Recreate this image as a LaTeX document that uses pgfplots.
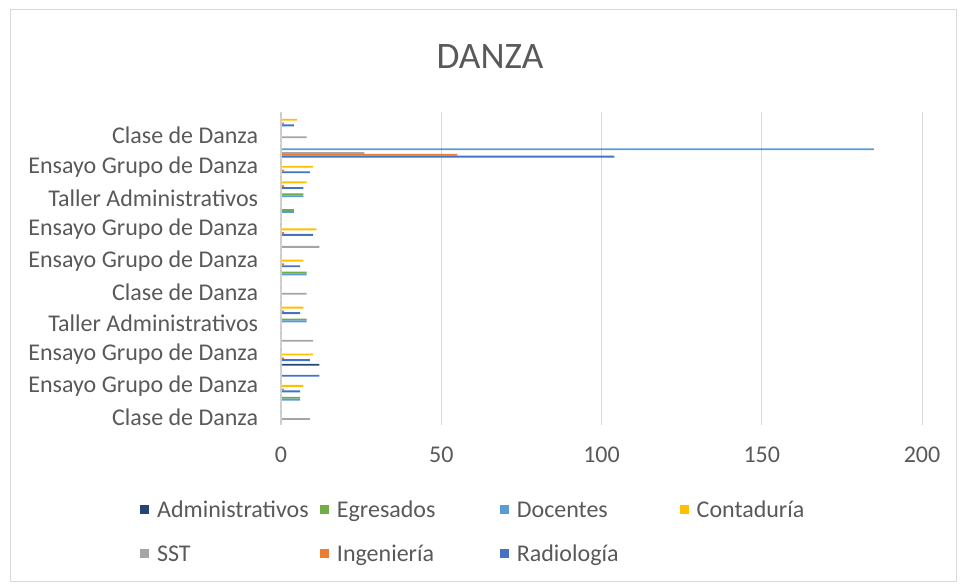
\documentclass[border=0pt]{standalone}
\usepackage{pgfplots}
\pgfplotsset{compat=1.18}
\usepackage{pgfplotstable}
\usepackage{fontspec}
\setmainfont{Carlito}
\definecolor{adm}{HTML}{264478}
\definecolor{egr}{HTML}{70AD47}
\definecolor{doc}{HTML}{5B9BD5}
\definecolor{con}{HTML}{FFC000}
\definecolor{sst}{HTML}{A5A5A5}
\definecolor{ing}{HTML}{ED7D31}
\definecolor{rad}{HTML}{4472C4}
\definecolor{txt}{HTML}{595959}
\definecolor{grd}{HTML}{D9D9D9}
\pgfplotstableread{
k adm egr doc con sst ing rad
1 0 0 0 0 9 0 0
2 0 6 6 0 0 0 0
3 0 0 0 7 0 1 6
4 12 0 0 0 0 0 12
5 0 0 0 10 0 1 9
6 0 0 0 0 10 0 0
7 0 8 8 0 0 0 0
8 0 0 0 7 0 1 6
9 0 0 0 0 8 0 0
10 0 8 8 0 0 0 0
11 0 0 0 7 0 1 6
12 0 0 0 0 12 0 0
13 0 0 0 11 0 1 10
14 0 4 4 0 0 0 0
15 0 7 7 0 0 0 0
16 0 0 0 8 0 1 7
17 0 0 0 10 0 1 9
18 0 0 185 0 26 55 104
19 0 0 0 0 8 0 0
20 0 0 0 5 0 1 4
}\danza
\pgfplotsset{sqlegend/.style={legend image code/.code={\fill[##1] (0pt,-3.45pt) rectangle (6.9pt,3.45pt);}}}
\begin{document}
\begin{tikzpicture}
\useasboundingbox (0,0) rectangle (720.75pt,438pt);
\draw[grd, line width=0.75pt] (7.5pt,1.5pt) rectangle (717pt,430.5pt);
\node[text=txt, font=\fontsize{28}{32}\selectfont, anchor=center] at (367.5pt,395.25pt) {DANZA};
\begin{axis}[
  at={(210.75pt,119.25pt)}, anchor=south west,
  scale only axis, width=480.75pt, height=234.75pt,
  xbar, bar width=0.118,
  xmin=0, xmax=200, ymin=0.5, ymax=20.5,
  xtick={0,50,100,150,200},
  ytick={1,3,5,7,9,11,13,15,17,19},
  yticklabels={Clase de Danza, Ensayo Grupo de Danza, Ensayo Grupo de Danza, Taller Administrativos, Clase de Danza, Ensayo Grupo de Danza, Ensayo Grupo de Danza, Taller Administrativos, Ensayo Grupo de Danza, Clase de Danza},
  major tick length=0pt,
  axis line style={draw=none},
  xmajorgrids, grid style={grd, line width=0.75pt},
  /pgf/number format/assume math mode=true,
  tick label style={text=txt, font=\fontsize{18}{20}\selectfont},
  yticklabel style={inner sep=0pt, xshift=-17pt},
  xticklabel style={inner sep=0pt, yshift=-16.5pt},
  legend columns=4,
  legend style={at={(-0.22,-0.228)}, anchor=north west, draw=none, fill=none,
    font=\fontsize{18}{20}\selectfont, text=txt, inner sep=0pt, row sep=13.5pt,
    /tikz/every odd column/.append style={column sep=3.75pt},
    /tikz/every even column/.append style={column sep=0pt}},
  legend cell align=left,
]
\addplot[fill=adm, draw=none, bar shift=0.354, sqlegend] table[x=adm, y=k]{\danza};
\addlegendentry{\makebox[120.25pt][l]{\strut Administrativos}}
\addplot[fill=egr, draw=none, bar shift=0.236, sqlegend] table[x=egr, y=k]{\danza};
\addlegendentry{\makebox[120.25pt][l]{\strut Egresados}}
\addplot[fill=doc, draw=none, bar shift=0.118, sqlegend] table[x=doc, y=k]{\danza};
\addlegendentry{\makebox[120.25pt][l]{\strut Docentes}}
\addplot[fill=con, draw=none, bar shift=0, sqlegend] table[x=con, y=k]{\danza};
\addlegendentry{\makebox[120.25pt][l]{\strut Contaduría}}
\addplot[fill=sst, draw=none, bar shift=-0.118, sqlegend] table[x=sst, y=k]{\danza};
\addlegendentry{\makebox[120.25pt][l]{\strut SST}}
\addplot[fill=ing, draw=none, bar shift=-0.236, sqlegend] table[x=ing, y=k]{\danza};
\addlegendentry{\makebox[120.25pt][l]{\strut Ingeniería}}
\addplot[fill=rad, draw=none, bar shift=-0.354, sqlegend] table[x=rad, y=k]{\danza};
\addlegendentry{\makebox[120.25pt][l]{\strut Radiología}}
\draw[grd!90!black!80, line width=1.6pt] (axis cs:0,0.5) -- (axis cs:0,20.5);
\end{axis}
\end{tikzpicture}
\end{document}
